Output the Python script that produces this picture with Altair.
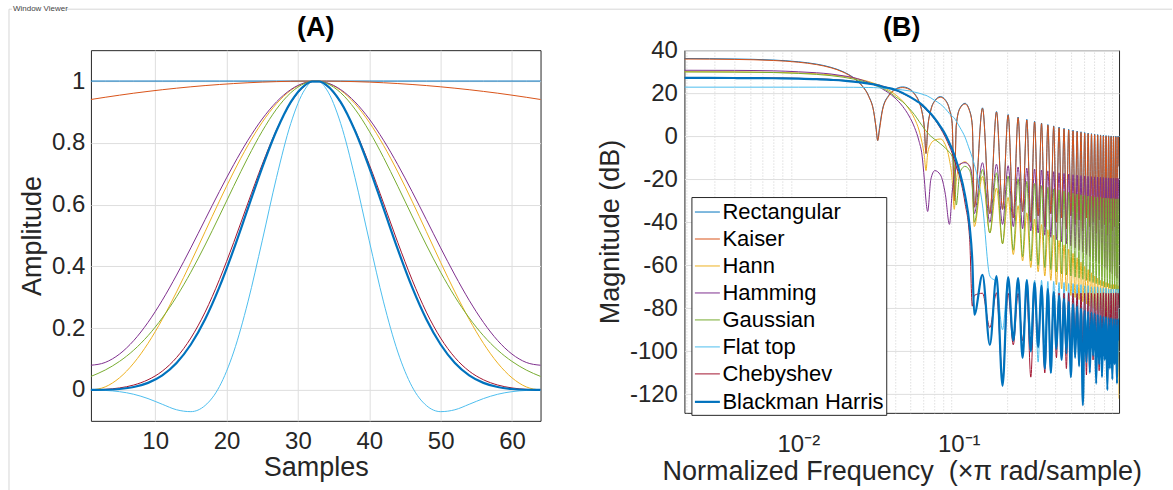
import altair as alt
import pandas as pd

# ---------------- names / colours ----------------
windows = ["Rectangular", "Kaiser", "Hann", "Hamming", "Gaussian",
           "Flat top", "Chebyshev", "Blackman Harris"]
colors = ["#0072BD", "#D95319", "#EDB120", "#7E2F8E", "#77AC30",
          "#4DBEEE", "#A2142F", "#0072BD"]
widths = [1.0, 1.0, 1.0, 1.0, 1.0, 1.0, 1.0, 2.2]

# ---------------- panel (A): time domain ----------------
samples = [1, 3, 5, 7, 9, 11, 13, 15, 17, 19, 21, 23, 25, 27, 29, 31, 32,
           33, 34, 36, 38, 40, 42, 44, 46, 48, 50, 52, 54, 56, 58, 60, 62, 64]

amp_rect = [1.0] * 34
amp_kaiser = [0.9403, 0.9475, 0.9543, 0.9607, 0.9665, 0.9720, 0.9769, 0.9814, 0.9854,
              0.9889, 0.9919, 0.9945, 0.9966, 0.9982, 0.9993, 0.9999, 1.0,
              1.0, 0.9999, 0.9993, 0.9982, 0.9966, 0.9945, 0.9919, 0.9889, 0.9854,
              0.9814, 0.9769, 0.9720, 0.9665, 0.9607, 0.9543, 0.9475, 0.9403]
amp_hann = [0.0, 0.0099, 0.0393, 0.0869, 0.1509, 0.2288, 0.3174, 0.4132, 0.5125,
            0.6113, 0.7057, 0.7919, 0.8666, 0.9267, 0.9699, 0.9944, 0.9994,
            0.9994, 0.9944, 0.9699, 0.9267, 0.8666, 0.7919, 0.7057, 0.6113, 0.5125,
            0.4132, 0.3174, 0.2288, 0.1509, 0.0869, 0.0393, 0.0099, 0.0]
amp_hamming = [0.08, 0.0891, 0.1161, 0.1599, 0.2188, 0.2904, 0.3720, 0.4601, 0.5515,
               0.6424, 0.7292, 0.8085, 0.8772, 0.9325, 0.9723, 0.9948, 0.9994,
               0.9994, 0.9948, 0.9723, 0.9325, 0.8772, 0.8085, 0.7292, 0.6424, 0.5515,
               0.4601, 0.3720, 0.2904, 0.2188, 0.1599, 0.1161, 0.0891, 0.08]
amp_gauss = [0.0439, 0.0645, 0.0924, 0.1290, 0.1757, 0.2333, 0.3019, 0.3812, 0.4693,
             0.5633, 0.6594, 0.7526, 0.8376, 0.9091, 0.9621, 0.9929, 0.9992,
             0.9992, 0.9929, 0.9621, 0.9091, 0.8376, 0.7526, 0.6594, 0.5633, 0.4693,
             0.3812, 0.3019, 0.2333, 0.1757, 0.1290, 0.0924, 0.0645, 0.0439]
amp_flattop = [-0.0004, -0.0015, -0.0055, -0.0139, -0.0279, -0.0464, -0.0641, -0.0702,
               -0.0503, 0.0107, 0.1228, 0.2851, 0.4828, 0.6873, 0.8625, 0.9735, 0.9970,
               0.9970, 0.9735, 0.8625, 0.6873, 0.4828, 0.2851, 0.1228, 0.0107, -0.0503,
               -0.0702, -0.0641, -0.0464, -0.0279, -0.0139, -0.0055, -0.0015, -0.0004]
amp_cheb = [0.0004, 0.0020, 0.0065, 0.0160, 0.0330, 0.0610, 0.1050, 0.1680, 0.2520,
            0.3570, 0.4770, 0.6050, 0.7300, 0.8420, 0.9300, 0.9850, 0.9982,
            0.9982, 0.9850, 0.9300, 0.8420, 0.7300, 0.6050, 0.4770, 0.3570, 0.2520,
            0.1680, 0.1050, 0.0610, 0.0330, 0.0160, 0.0065, 0.0020, 0.0004]
amp_bh = [0.0001, 0.0007, 0.0032, 0.0095, 0.0229, 0.0473, 0.0873, 0.1471, 0.2289,
          0.3328, 0.4549, 0.5876, 0.7200, 0.8390, 0.9317, 0.9871, 0.9986,
          0.9986, 0.9871, 0.9317, 0.8390, 0.7200, 0.5876, 0.4549, 0.3328, 0.2289,
          0.1471, 0.0873, 0.0473, 0.0229, 0.0095, 0.0032, 0.0007, 0.0001]

# ---------------- panel (B): magnitude responses ----------------
freq_b = [0.00195, 0.004, 0.007, 0.01, 0.013, 0.016, 0.019, 0.022, 0.025, 0.0275,
          0.0295, 0.0305, 0.03125, 0.032, 0.0335, 0.0365, 0.04, 0.0447, 0.049, 0.053,
          0.0565, 0.059, 0.061, 0.0625, 0.064, 0.067, 0.071, 0.0769, 0.0825, 0.0875,
          0.091, 0.09375, 0.0965, 0.1015, 0.1094, 0.117, 0.1215, 0.125,
          0.1406, 0.15625, 0.1719, 0.1875, 0.2031, 0.21875, 0.2344, 0.25, 0.2656, 0.28125,
          0.2969, 0.3125, 0.3281, 0.34375, 0.3594, 0.375, 0.3906, 0.40625, 0.4219, 0.4375,
          0.4531, 0.46875, 0.4844, 0.5, 0.5156, 0.53125, 0.5469, 0.5625, 0.5781, 0.59375,
          0.6094, 0.625, 0.6406, 0.65625, 0.6719, 0.6875, 0.7031, 0.71875, 0.7344, 0.75,
          0.7656, 0.78125, 0.7969, 0.8125, 0.8281, 0.84375, 0.8594, 0.875, 0.8906, 0.90625,
          0.9219, 0.9375, 0.9531, 0.96875, 0.9844, 0.998]

db_rect = [36.1, 35.9, 35.4, 34.6, 33.5, 32.0, 30.0, 27.3, 23.5, 18.6,
           11.5, 3.9, -2.0, 3.5, 12.6, 18.9, 21.8, 22.9, 22.1, 19.8,
           16.2, 11.5, 3.9, -8.0, 3.5, 12.3, 16.6, 18.4, 16.9, 12.6,
           6.0, -30.0, 5.1, 13.0, 15.3, 11.8, 5.0, -33.0,
           13.2, -36, 11.5, -34, 10.1, -38, 8.9, -35, 7.85, -40,
           6.94, -37, 6.15, -42, 5.43, -36, 4.8, -40, 4.22, -38,
           3.7, -43, 3.23, -37, 2.8, -41, 2.42, -39, 2.07, -44,
           1.75, -38, 1.46, -42, 1.21, -40, 0.98, -45, 0.78, -39,
           0.6, -43, 0.45, -41, 0.32, -46, 0.21, -40, 0.13, -44,
           0.07, -42, 0.02, -47, 0.0, -14]
db_kaiser = [35.9, 35.7, 35.2, 34.4, 33.3, 31.8, 29.8, 27.1, 23.3, 18.4,
             11.4, 4.2, -2.0, 2.5, 12.2, 18.6, 21.5, 22.6, 21.8, 19.5,
             15.9, 11.2, 3.8, -8.0, 3.2, 12.0, 16.3, 18.1, 16.6, 12.3,
             5.7, -30.0, 4.8, 12.7, 15.0, 11.5, 4.7, -33.0,
             12.9, -36, 11.2, -34, 9.8, -38, 8.6, -35, 7.55, -40,
             6.64, -37, 5.85, -42, 5.13, -36, 4.5, -40, 3.92, -38,
             3.4, -43, 2.93, -37, 2.5, -41, 2.12, -39, 1.77, -44,
             1.45, -38, 1.16, -42, 0.91, -40, 0.68, -45, 0.48, -39,
             0.3, -43, 0.15, -41, 0.02, -46, -0.09, -40, -0.17, -44,
             -0.23, -42, -0.28, -47, -0.3, -14]
db_hann = [29.96, 29.9, 29.7, 29.4, 29.0, 28.5, 27.85, 27.1, 26.2, 25.4,
           24.65, 24.26, 23.95, 23.64, 22.97, 21.5, 19.5, 16.3, 12.6, 8.2,
           2.9, -2.9, -9.0, -16.0, -8.0, -3.5, -1.8, -1.3, -4.0, -11.0,
           -20.0, -34.0, -21.0, -13.5, -11.9, -14.0, -22.0, -42.0,
           -18.7, -45, -24.1, -50, -28.5, -55, -32.3, -58, -35.6, -61,
           -38.5, -63, -41.1, -65, -43.5, -67, -46, -69, -48.5, -71,
           -50.5, -72, -52.5, -74, -54.5, -75, -56.5, -76, -58.5, -77,
           -60.5, -78, -62, -79, -63.5, -80, -65, -81, -66, -82,
           -67, -83, -67.5, -84, -68, -85, -68.5, -86, -69, -87,
           -69, -88, -69, -90, -69.5, -122]
db_hamming = [30.65, 30.6, 30.4, 29.95, 29.5, 28.9, 28.1, 27.3, 26.05, 25.0,
              24.0, 23.6, 23.25, 22.8, 21.9, 20.2, 17.8, 13.9, 9.4, 4.1,
              -2.2, -8.7, -20.0, -30.0, -35.0, -20.0, -16.0, -18.0, -27.0, -41.0,
              -26.0, -18.5, -15.0, -13.0, -12.3, -14.0, -20.0, -36.0,
              -12.3, -40, -13.0, -41, -13.7, -42, -14.3, -43, -14.8, -44,
              -15.3, -45, -15.7, -46, -16.1, -47, -16.5, -48, -17.0, -49,
              -17.3, -50, -17.6, -51, -17.9, -52, -18.1, -53, -18.3, -54,
              -18.5, -55, -18.7, -56, -18.8, -57, -18.9, -58, -19.0, -59,
              -19.1, -60, -19.2, -61, -19.3, -62, -19.4, -63, -19.5, -64,
              -19.5, -65, -19.6, -66, -19.6, -35]
db_gauss = [29.9, 29.8, 29.6, 29.2, 28.75, 28.15, 27.45, 26.6, 25.65, 24.75,
            24.0, 23.55, 23.25, 22.9, 22.25, 20.85, 18.5, 16.0, 13.0, 10.0,
            7.0, 5.0, 3.5, 2.5, 1.5, 0.0, -1.5, -3.5, -5.5, -7.5,
            -9.5, -14.0, -32.0, -17.0, -14.0, -16.0, -24.0, -40.0,
            -15.5, -45, -17.0, -50, -18.5, -53, -19.8, -56, -21.0, -58,
            -22.0, -60, -23.0, -61, -23.8, -62, -24.5, -63, -25.1, -64,
            -25.6, -64.5, -26.1, -65, -26.5, -65.5, -26.9, -66, -27.2, -66.5,
            -27.5, -67, -27.8, -67.5, -28.0, -68, -28.2, -68.5, -28.4, -69,
            -28.5, -69.5, -28.7, -70, -28.8, -70, -28.9, -70.5, -29.0, -71,
            -29.0, -71, -29.1, -71.5, -29.1, -75]
db_flattop = [22.8, 22.8, 22.8, 22.8, 22.8, 22.8, 22.75, 22.75, 22.7, 22.65,
              22.6, 22.55, 22.5, 22.45, 22.35, 22.1, 21.9, 21.5, 21.1, 20.5,
              20.0, 19.6, 19.2, 19.0, 18.6, 17.8, 16.6, 14.9, 12.8, 10.5,
              9.2, 8.5, 7.0, 4.2, -0.4, -6.5, -10.0, -13.1,
              -32, -65, -68, -90, -67, -95, -66.5, -100, -66.5, -92,
              -67, -105, -67, -96, -67.5, -110, -67.5, -94, -68, -101,
              -68, -97, -68.5, -106, -68.5, -95, -69, -100, -69, -108,
              -69.5, -96, -69.5, -103, -70, -98, -70, -110, -70, -97,
              -70.5, -104, -70.5, -99, -70.5, -107, -71, -96, -71, -102,
              -71, -98, -71, -105, -71, -90]
db_cheb = [27.3, 27.25, 27.1, 26.9, 26.7, 26.4, 26.0, 25.5, 25.0, 24.5,
           24.15, 24.0, 23.85, 23.7, 23.3, 22.5, 21.5, 19.9, 18.4, 17.0,
           15.5, 14.2, 13.2, 12.3, 11.6, 10.0, 7.7, 3.7, -0.5, -4.7,
           -7.9, -10.9, -13.9, -19.0, -31.0, -48.0, -79.0, -74.0,
           -73, -89, -72.8, -113, -73, -97, -73.1, -95, -72.9, -112,
           -73, -93, -72.8, -110, -73, -104, -73.2, -103, -72.9, -96,
           -73, -108, -72.8, -100, -73, -94, -73.1, -106, -72.9, -98,
           -73, -111, -72.8, -95, -73, -104, -73.2, -99, -72.9, -109,
           -73, -97, -72.8, -102, -73, -110, -73.1, -96, -72.9, -105,
           -73, -100, -72.8, -110, -73, -80]
db_bh = [27.1, 27.05, 26.95, 26.8, 26.55, 26.2, 25.85, 25.4, 24.9, 24.4,
         24.1, 23.85, 23.7, 23.5, 23.0, 22.4, 21.6, 20.1, 18.5, 17.0,
         15.7, 14.6, 13.6, 12.8, 12.0, 10.4, 8.1, 4.5, 0.8, -3.2,
         -6.1, -8.7, -11.5, -16.8, -27.4, -42.0, -58.0, -83.0,
         -64.5, -97, -65, -116, -65.5, -95, -66, -103, -67, -100,
         -68, -98, -69.5, -108, -71, -110, -72.5, -99, -74, -104,
         -75.5, -101, -77, -112, -78, -103, -79, -107, -80, -125,
         -81, -105, -81.5, -110, -82, -102, -82.5, -115, -83, -106,
         -83.5, -112, -84, -104, -84, -118, -84.5, -108, -84.5, -113,
         -85, -106, -85, -115, -85, -95]

minor_ticks = [0.002, 0.003, 0.004, 0.005, 0.006, 0.007, 0.008, 0.009,
               0.02, 0.03, 0.04, 0.05, 0.06, 0.07, 0.08, 0.09,
               0.2, 0.3, 0.4, 0.5, 0.6, 0.7, 0.8, 0.9]

# ---------------- tables ----------------
amp_lists = [amp_rect, amp_kaiser, amp_hann, amp_hamming, amp_gauss,
             amp_flattop, amp_cheb, amp_bh]
db_lists = [db_rect, db_kaiser, db_hann, db_hamming, db_gauss,
            db_flattop, db_cheb, db_bh]

rows_a = []
for name, vals in zip(windows, amp_lists):
    for n, v in zip(samples, vals):
        rows_a.append({"Window": name, "Sample": n, "Amplitude": v})
df_a = pd.DataFrame(rows_a)

rows_b = []
for name, vals in zip(windows, db_lists):
    for f, v in zip(freq_b, vals):
        rows_b.append({"Window": name, "Frequency": f, "Magnitude": v})
df_b = pd.DataFrame(rows_b)

color_scale = alt.Scale(domain=windows, range=colors)
width_scale = alt.Scale(type="ordinal", domain=windows, range=widths)

# ---------------- frame decoration ("Window Viewer" panel) ----------------
one = pd.DataFrame({"k": [0]})
frame_col = "#d6d6d6"
deco_v = alt.Chart(one).mark_rule(color=frame_col, strokeWidth=1).encode(
    x=alt.value(-82), y=alt.value(-40), y2=alt.value(442))
deco_l = alt.Chart(one).mark_rule(color=frame_col, strokeWidth=1).encode(
    x=alt.value(-82), x2=alt.value(-79), y=alt.value(-40))
deco_r = alt.Chart(one).mark_rule(color=frame_col, strokeWidth=1).encode(
    x=alt.value(-24), x2=alt.value(1082), y=alt.value(-40))
deco_t = alt.Chart(one).mark_text(align="left", baseline="middle", fontSize=8,
                                  color="#444444", font="Liberation Sans").encode(
    x=alt.value(-78), y=alt.value(-40), text=alt.value("Window Viewer"))
header = alt.layer(deco_v, deco_l, deco_r, deco_t).properties(
    width=1, height=1, view=alt.ViewConfig(stroke="transparent"))

# ---------------- panel A ----------------
lines_a = alt.Chart(df_a).mark_line(interpolate="monotone").encode(
    x=alt.X("Sample:Q", scale=alt.Scale(domain=[1, 64], nice=False, zero=False),
            axis=alt.Axis(values=[10, 20, 30, 40, 50, 60], title="Samples",
                          labelPadding=9, titlePadding=1)),
    y=alt.Y("Amplitude:Q", scale=alt.Scale(domain=[-0.1, 1.1], nice=False, zero=False),
            axis=alt.Axis(values=[0, 0.2, 0.4, 0.6, 0.8, 1], labelExpr="'' + datum.value",
                          title="Amplitude", labelPadding=6, titlePadding=5)),
    color=alt.Color("Window:N", scale=color_scale, legend=None),
    strokeWidth=alt.StrokeWidth("Window:N", scale=width_scale, legend=None),
)
panel_a = lines_a.properties(width=450, height=371,
                             title=alt.TitleParams(text="(A)", offset=8))

# ---------------- panel B ----------------
log_scale = alt.Scale(type="log", domain=[0.00195, 0.998], nice=False)
minor = alt.Chart(pd.DataFrame({"f": minor_ticks})).mark_point(opacity=0).encode(
    x=alt.X("f:Q", scale=log_scale,
            axis=alt.Axis(values=minor_ticks, grid=True, gridDash=[1, 2],
                          gridColor="#cfcfcf", labels=False, ticks=False,
                          domain=False, title=None, orient="bottom")))
legend_b = alt.Legend(title=None, orient="none", legendX=7, legendY=147)
lines_b = alt.Chart(df_b).mark_line(interpolate="monotone", clip=True).encode(
    x=alt.X("Frequency:Q", scale=log_scale,
            axis=alt.Axis(values=[0.01, 0.1],
                          labelExpr="datum.value < 0.05 ? '10⁻²' : '10⁻¹'",
                          title="Normalized Frequency\u00a0\u00a0(×π rad/sample)",
                          labelPadding=20, titlePadding=2, orient="bottom")),
    y=alt.Y("Magnitude:Q", scale=alt.Scale(domain=[-128.6, 40], nice=False, zero=False),
            axis=alt.Axis(values=[-120, -100, -80, -60, -40, -20, 0, 20, 40],
                          labelExpr="'' + datum.value", title="Magnitude (dB)",
                          labelPadding=7, titlePadding=5)),
    color=alt.Color("Window:N", scale=color_scale, legend=legend_b),
    strokeWidth=alt.StrokeWidth("Window:N", scale=width_scale, legend=legend_b),
)
panel_b = alt.layer(minor, lines_b).resolve_axis(x="independent").properties(
    width=435, height=363, title=alt.TitleParams(text="(B)", offset=-4))

body = alt.hconcat(panel_a, panel_b, spacing=144, bounds="flush").resolve_scale(
    color="independent", strokeWidth="independent"
).resolve_legend(
    color="independent", strokeWidth="independent"
)

chart = alt.vconcat(header, body, spacing=0, bounds="flush").properties(
    padding={"left": 8, "top": 4, "right": 0, "bottom": 0},
    background="white",
).configure_view(
    stroke="#262626", strokeWidth=1
).configure_axis(
    labelFont="Liberation Sans", labelFontSize=24, labelColor="#262626",
    titleFont="Liberation Sans", titleFontSize=27, titleColor="#262626",
    titleFontWeight="normal", gridColor="#dedede", gridWidth=1,
    domain=False, ticks=False
).configure_title(
    font="Liberation Sans", fontSize=27, fontWeight="bold", color="#000000"
).configure_legend(
    symbolType="stroke", symbolSize=625, labelFont="Liberation Sans",
    labelFontSize=22, labelColor="#000000", rowPadding=3, padding=2,
    strokeColor="#262626", fillColor="#ffffff", labelOffset=1, labelLimit=400
)

chart.save("out.html", embed_options={"renderer": "svg", "actions": False})
